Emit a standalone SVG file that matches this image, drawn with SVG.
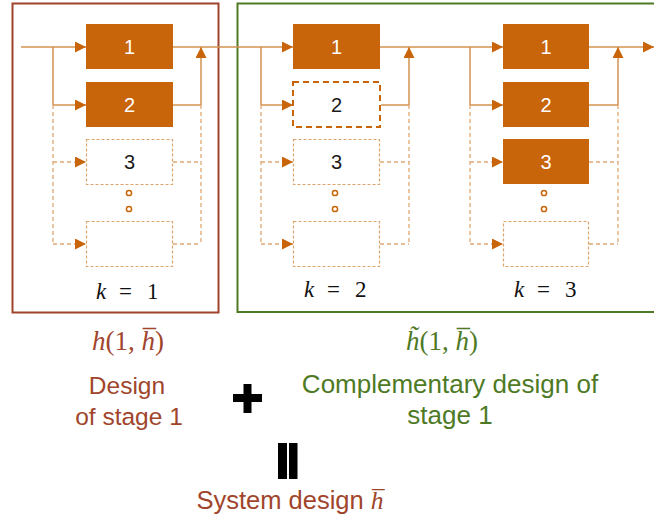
<svg xmlns="http://www.w3.org/2000/svg" width="654" height="525" viewBox="0 0 654 525">
<style>
.bg{fill:#ffffff}
.fill{fill:#C8640A;stroke:none}
.dbox{fill:#ffffff;stroke:#DCA46C;stroke-width:1.2;stroke-dasharray:3 2}
.dbox2{fill:#ffffff;stroke:#C8640A;stroke-width:2;stroke-dasharray:6 4}
.num{font-family:"Liberation Sans",Arial,sans-serif;font-size:20px;text-anchor:middle}
.w{fill:#ffffff}
.b{fill:#1a1a1a}
.ln{fill:none;stroke:#D4914F;stroke-width:1.5}
.dl{fill:none;stroke:#DFA873;stroke-width:1.3;stroke-dasharray:4 3}
.dot{fill:none;stroke:#C8640A;stroke-width:1.5}
.kt{font-family:"Liberation Serif","DejaVu Serif",serif;font-size:23px;fill:#111}
.math{font-family:"Liberation Serif","DejaVu Serif",serif;font-size:27px;text-anchor:middle}
.lbl{font-family:"Liberation Sans",Arial,sans-serif;text-anchor:middle}
.brown{fill:#A0452C}
.green{fill:#4E7A25}
</style>
<defs>
<marker id="ah" markerUnits="userSpaceOnUse" markerWidth="11" markerHeight="11" refX="10" refY="5" orient="auto" viewBox="0 0 10 10">
<path d="M0,0 L10,5 L0,10 z" fill="#C8640A"/>
</marker>
</defs>
<rect class="bg" width="654" height="525"/>

<g id="frame-stage1">
<rect x="12.5" y="3.5" width="206" height="309" fill="none" stroke="#A0432A" stroke-width="2"/>
</g>
<g id="frame-complement">
<rect x="237.5" y="3.5" width="430" height="308.5" fill="none" stroke="#4E7A25" stroke-width="2"/>
</g>

<g id="connectors">
<line class="ln" x1="21" y1="47" x2="86" y2="47" marker-end="url(#ah)"/>
<line class="ln" x1="173" y1="47" x2="293" y2="47" marker-end="url(#ah)"/>
<line class="ln" x1="380" y1="47" x2="503" y2="47" marker-end="url(#ah)"/>
<line class="ln" x1="589" y1="47" x2="654" y2="47" marker-end="url(#ah)"/>

<line class="ln" x1="53" y1="47" x2="53" y2="105"/>
<line class="ln" x1="53" y1="105" x2="86" y2="105" marker-end="url(#ah)"/>
<line class="dl" x1="53" y1="105" x2="53" y2="244"/>
<line class="dl" x1="53" y1="162" x2="86" y2="162" marker-end="url(#ah)"/>
<line class="dl" x1="53" y1="244" x2="86" y2="244" marker-end="url(#ah)"/>
<line class="ln" x1="173" y1="105" x2="201" y2="105"/>
<line class="ln" x1="201" y1="105" x2="201" y2="47" marker-end="url(#ah)"/>
<line class="dl" x1="201" y1="105" x2="201" y2="244"/>
<line class="dl" x1="173" y1="162" x2="201" y2="162"/>
<line class="dl" x1="173" y1="244" x2="201" y2="244"/>

<line class="ln" x1="261" y1="47" x2="261" y2="105"/>
<line class="ln" x1="261" y1="105" x2="293" y2="105" marker-end="url(#ah)"/>
<line class="dl" x1="261" y1="105" x2="261" y2="244"/>
<line class="dl" x1="261" y1="162" x2="293" y2="162" marker-end="url(#ah)"/>
<line class="dl" x1="261" y1="244" x2="293" y2="244" marker-end="url(#ah)"/>
<line class="ln" x1="381" y1="105" x2="409" y2="105"/>
<line class="ln" x1="409" y1="105" x2="409" y2="47" marker-end="url(#ah)"/>
<line class="dl" x1="409" y1="105" x2="409" y2="244"/>
<line class="dl" x1="380" y1="162" x2="409" y2="162"/>
<line class="dl" x1="380" y1="244" x2="409" y2="244"/>

<line class="ln" x1="470" y1="47" x2="470" y2="105"/>
<line class="ln" x1="470" y1="105" x2="503" y2="105" marker-end="url(#ah)"/>
<line class="dl" x1="470" y1="105" x2="470" y2="244"/>
<line class="dl" x1="470" y1="162" x2="503" y2="162" marker-end="url(#ah)"/>
<line class="dl" x1="470" y1="244" x2="503" y2="244" marker-end="url(#ah)"/>
<line class="ln" x1="589" y1="105" x2="618" y2="105"/>
<line class="ln" x1="618" y1="105" x2="618" y2="47" marker-end="url(#ah)"/>
<line class="dl" x1="618" y1="105" x2="618" y2="244"/>
<line class="dl" x1="589" y1="162" x2="618" y2="162"/>
<line class="dl" x1="589" y1="244" x2="618" y2="244"/>
</g>

<g id="s1-n1"><rect class="fill" x="86" y="24" width="87" height="45"/><text class="num w" x="129.5" y="54">1</text></g>
<g id="s1-n2"><rect class="fill" x="86" y="82" width="87" height="45"/><text class="num w" x="129.5" y="112">2</text></g>
<g id="s1-n3"><rect class="dbox" x="86.5" y="139.5" width="86" height="45"/><text class="num b" x="129.5" y="169">3</text></g>
<g id="s1-dots"><circle class="dot" cx="129" cy="193" r="2.6"/><circle class="dot" cx="129" cy="209" r="2.6"/></g>
<g id="s1-n4"><rect class="dbox" x="86.5" y="221.5" width="86" height="45"/></g>
<g id="s1-k"><text class="kt" y="299"><tspan x="96" font-style="italic">k</tspan><tspan x="119">=</tspan><tspan x="147">1</tspan></text></g>

<g id="s2-n1"><rect class="fill" x="293" y="24" width="87" height="45"/><text class="num w" x="336.5" y="54">1</text></g>
<g id="s2-n2"><rect class="dbox2" x="293" y="82" width="87" height="45"/><text class="num b" x="336.5" y="112">2</text></g>
<g id="s2-n3"><rect class="dbox" x="293.5" y="139.5" width="86" height="45"/><text class="num b" x="336.5" y="169">3</text></g>
<g id="s2-dots"><circle class="dot" cx="335" cy="193" r="2.6"/><circle class="dot" cx="335" cy="209" r="2.6"/></g>
<g id="s2-n4"><rect class="dbox" x="293.5" y="221.5" width="86" height="45"/></g>
<g id="s2-k"><text class="kt" y="297"><tspan x="304" font-style="italic">k</tspan><tspan x="327">=</tspan><tspan x="355">2</tspan></text></g>

<g id="s3-n1"><rect class="fill" x="503" y="24" width="86" height="45"/><text class="num w" x="546" y="54">1</text></g>
<g id="s3-n2"><rect class="fill" x="503" y="82" width="86" height="45"/><text class="num w" x="546" y="112">2</text></g>
<g id="s3-n3"><rect class="fill" x="503" y="139" width="86" height="45"/><text class="num w" x="546" y="169">3</text></g>
<g id="s3-dots"><circle class="dot" cx="544" cy="193" r="2.6"/><circle class="dot" cx="544" cy="209" r="2.6"/></g>
<g id="s3-n4"><rect class="dbox" x="503.5" y="221.5" width="85" height="45"/></g>
<g id="s3-k"><text class="kt" y="297"><tspan x="514" font-style="italic">k</tspan><tspan x="537">=</tspan><tspan x="565">3</tspan></text></g>

<g id="label-h">
<text class="math brown" x="128" y="350"><tspan font-style="italic">h</tspan>(1, <tspan font-style="italic">h&#x0305;</tspan>)</text>
<text class="lbl brown" x="127" y="394" font-size="24.5">Design</text>
<text class="lbl brown" x="129" y="425" font-size="24.5">of stage 1</text>
</g>
<g id="label-htilde">
<text class="math green" x="442" y="350"><tspan font-style="italic">h&#x0303;</tspan>(1, <tspan font-style="italic">h&#x0305;</tspan>)</text>
<text class="lbl green" x="450" y="393" font-size="26">Complementary design of</text>
<text class="lbl green" x="450" y="424" font-size="26">stage 1</text>
</g>
<g id="plus">
<rect x="233" y="394" width="29" height="8" fill="#000"/>
<rect x="243.5" y="384" width="8" height="29" fill="#000"/>
</g>
<g id="equals">
<rect x="278" y="443" width="9" height="36" fill="#000"/>
<rect x="289" y="443" width="8.5" height="36" fill="#000"/>
</g>
<g id="label-system">
<text class="lbl brown" x="290" y="509" font-size="25.5">System design <tspan font-family="Liberation Serif,serif" font-style="italic">h&#x0305;</tspan></text>
</g>
</svg>
